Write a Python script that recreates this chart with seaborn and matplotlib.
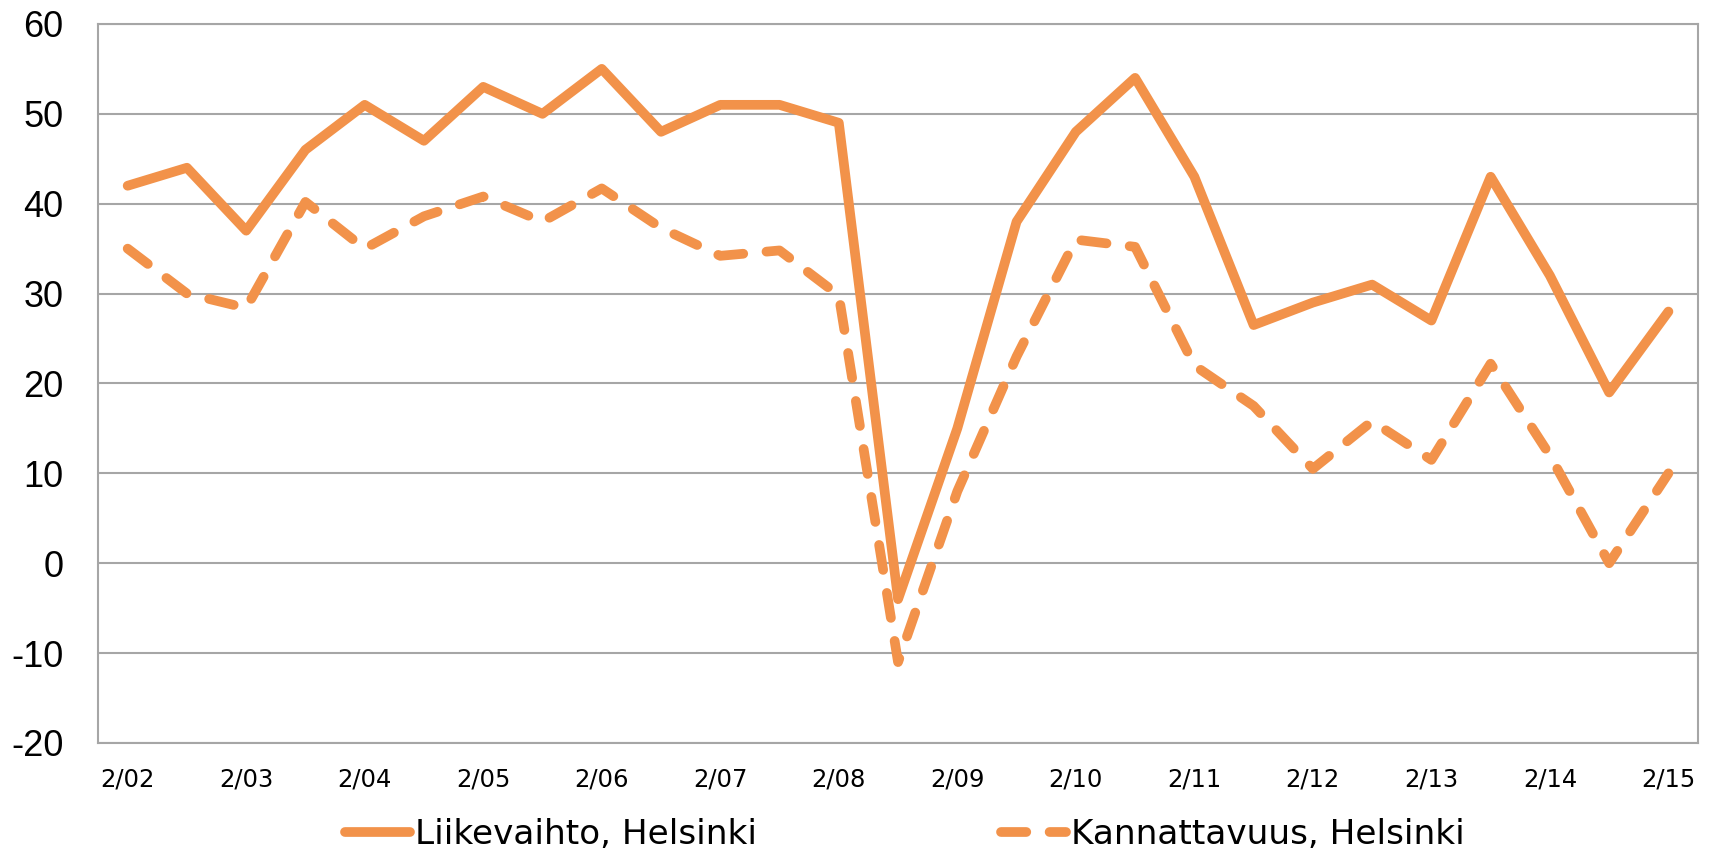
import pandas as pd
import matplotlib
matplotlib.use("Agg")
import matplotlib.pyplot as plt
import seaborn as sns

# Data (half-year observations, labels every February)
periodit = [f"{m}/{y:02d}" for y in range(2, 16) for m in (2, 8)][:27]
tick_labels = ["2/02", "2/03", "2/04", "2/05", "2/06", "2/07", "2/08",
               "2/09", "2/10", "2/11", "2/12", "2/13", "2/14", "2/15"]

liikevaihto = [42, 44, 37, 46, 51, 47, 53, 50, 55, 48, 51, 51, 49, -4,
               15, 38, 48, 54, 43, 26.5, 29, 31, 27, 43, 32, 19, 28]
kannattavuus = [35, 30, 28.4, 40.2, 35, 38.6, 40.8, 38, 41.7, 37.3, 34.2, 34.8, 29.8, -11,
                8, 23, 36, 35.2, 22, 17.5, 10.5, 15.8, 11.5, 22.2, 12, 0, 10]

sarja1 = "Liikevaihto, Helsinki"
sarja2 = "Kannattavuus, Helsinki"

df = pd.DataFrame({
    "Jakso": periodit * 2,
    "Arvo": liikevaihto + kannattavuus,
    "Sarja": [sarja1] * len(periodit) + [sarja2] * len(periodit),
})

# Look
sns.set_theme(style="white")
plt.rcParams["font.family"] = ["DejaVu Sans"]
plt.rcParams["axes.unicode_minus"] = False
plt.rcParams["text.color"] = "black"
plt.rcParams["lines.solid_capstyle"] = "round"
plt.rcParams["lines.dash_capstyle"] = "round"
plt.rcParams["lines.solid_joinstyle"] = "round"
plt.rcParams["lines.dash_joinstyle"] = "round"

ORANSSI = "#F2924A"
HARMAA = "#A6A6A6"

fig = plt.figure(figsize=(17.14, 8.55), dpi=100)
ax = fig.add_axes([0.0572, 0.131, 0.9335, 0.841])

sns.lineplot(data=df, x="Jakso", y="Arvo", style="Sarja",
             dashes={sarja1: "", sarja2: (2.6, 2.4)},
             color=ORANSSI, linewidth=7, ax=ax, legend=True)

ax.set_xlim(-0.5, len(periodit) - 0.5)
ax.set_ylim(-20, 60)
ax.set_yticks(range(-20, 61, 10))
ax.set_xticks(range(0, len(periodit), 2))
ax.set_xticklabels(tick_labels)
ax.set_xlabel("")
ax.set_ylabel("")

ax.yaxis.grid(True, color=HARMAA, linewidth=1.5)
ax.set_axisbelow(True)
for s in ax.spines.values():
    s.set_color(HARMAA)
    s.set_linewidth(1.5)

ax.tick_params(axis="y", length=0, pad=25, labelsize=26, labelcolor="black")
ax.tick_params(axis="x", length=0, pad=18, labelsize=17.5, labelcolor="black")
for lab in ax.get_yticklabels():
    lab.set_family(["Liberation Sans Narrow", "Liberation Sans"])

handles, labels = ax.get_legend_handles_labels()
ax.legend_.remove()
fig.legend(handles, labels, loc="center", bbox_to_anchor=(0.528, 0.024),
           ncol=2, frameon=False, fontsize=24.7, handlelength=1.9,
           handletextpad=0.15, columnspacing=7.1)

plt.savefig("out.png", dpi=100)
plt.close()
